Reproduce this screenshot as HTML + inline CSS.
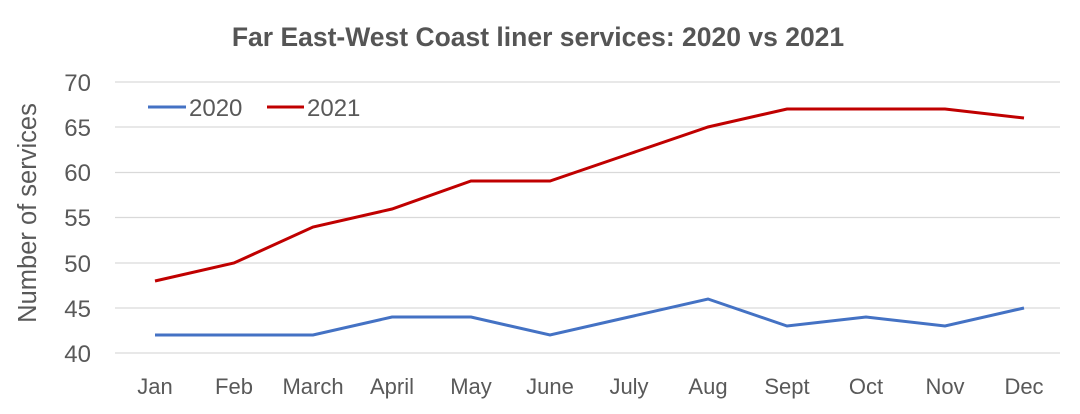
<!DOCTYPE html>
<html><head><style>body{margin:0;background:#fff}</style></head><body>
<svg width="1080" height="409" xmlns="http://www.w3.org/2000/svg" font-family="Liberation Sans, sans-serif">
<rect width="1080" height="409" fill="#fff"/>
<text x="538" y="46" text-anchor="middle" font-size="26.5" font-weight="bold" fill="#555">Far East-West Coast liner services: 2020 vs 2021</text>
<g stroke="#d9d9d9" stroke-width="1.3">
<line x1="115" x2="1060" y1="82" y2="82"/><line x1="115" x2="1060" y1="127" y2="127"/><line x1="115" x2="1060" y1="172.5" y2="172.5"/><line x1="115" x2="1060" y1="217.5" y2="217.5"/><line x1="115" x2="1060" y1="263" y2="263"/><line x1="115" x2="1060" y1="308" y2="308"/><line x1="115" x2="1060" y1="353" y2="353"/>
</g>
<g font-size="24" fill="#595959" text-anchor="end">
<text x="91" y="91">70</text><text x="91" y="136">65</text><text x="91" y="181">60</text><text x="91" y="226">55</text><text x="91" y="272">50</text><text x="91" y="317">45</text><text x="91" y="362">40</text>
</g>
<text transform="translate(36,213) rotate(-90)" text-anchor="middle" font-size="25.5" fill="#595959">Number of services</text>
<g font-size="22" fill="#595959" text-anchor="middle">
<text x="155" y="394">Jan</text><text x="234" y="394">Feb</text><text x="313" y="394">March</text><text x="392" y="394">April</text><text x="471" y="394">May</text><text x="550" y="394">June</text><text x="629" y="394">July</text><text x="708" y="394">Aug</text><text x="787" y="394">Sept</text><text x="866" y="394">Oct</text><text x="945" y="394">Nov</text><text x="1024" y="394">Dec</text>
</g>
<polyline fill="none" stroke="#4472c4" stroke-width="3" points="155,335 234,335 313,335 392,317 471,317 550,335 629,317 708,299 787,326 866,317 945,326 1024,308"/>
<polyline fill="none" stroke="#c00000" stroke-width="3" points="155,281 234,263 313,227 392,209 471,181 550,181 629,154 708,127 787,109 866,109 945,109 1024,118"/>
<line x1="148" x2="186" y1="107" y2="107" stroke="#4472c4" stroke-width="3"/>
<text x="189" y="116" font-size="24" fill="#595959">2020</text>
<line x1="267" x2="304" y1="107" y2="107" stroke="#c00000" stroke-width="3"/>
<text x="307" y="116" font-size="24" fill="#595959">2021</text>
</svg>
</body></html>
